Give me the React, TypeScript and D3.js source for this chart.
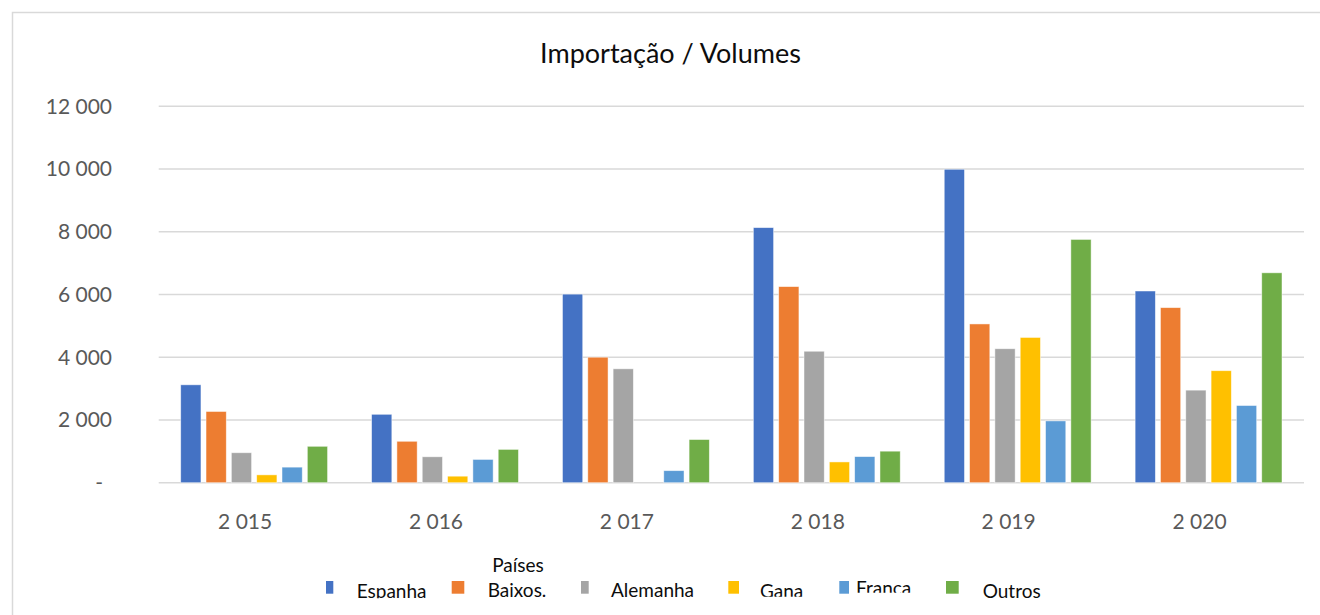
import React from "react";
import * as d3 from "d3";

const years = [2015, 2016, 2017, 2018, 2019, 2020];
const countries = ["Espanha", "Baixos.", "Alemanha", "Gana", "França", "Outros"];
const espanha = [3120, 2180, 6010, 8130, 9990, 6110];
const baixos = [2270, 1320, 4000, 6250, 5060, 5580];
const alemanha = [955, 826, 3630, 4190, 4270, 2950];
const gana = [250, 208, 0, 662, 4630, 3570];
const franca = [496, 742, 384, 832, 1970, 2460];
const outros = [1160, 1062, 1376, 1005, 7754, 6690];
const yTicks = [0, 2000, 4000, 6000, 8000, 10000, 12000];
const title = "Importação / Volumes";
const legendTitle = "Países";

const seriesValues = [espanha, baixos, alemanha, gana, franca, outros];
const colors = ["#4472C4", "#ED7D31", "#A5A5A5", "#FFC000", "#5B9BD5", "#70AD47"];

// legend layout (positions only)
const legendLayout = [
  { sx: 326, sw: 7.3, tx: 356.7, ty: 598, clip: 598.3 },
  { sx: 451.7, sw: 12.6, tx: 487.7, ty: 596.5, clip: 600 },
  { sx: 581, sw: 7.7, tx: 611, ty: 597.2, clip: 597.7 },
  { sx: 728.3, sw: 10.7, tx: 760, ty: 598, clip: 596.7 },
  { sx: 839.3, sw: 9.7, tx: 856, ty: 594.8, clip: 592.8 },
  { sx: 946, sw: 12.7, tx: 982.7, ty: 597.5, clip: 602 },
];

const W = 1320;
const H = 615;
const FONT = "Lato, 'Open Sans', sans-serif";

const locale = d3.formatLocale({ decimal: ",", thousands: " ", grouping: [3], currency: ["", ""] });
const fmt = locale.format(",d");

export default function App() {
  const x0 = d3.scaleBand<number>().domain(years).range([158.7, 1304]).padding(0);
  const x1 = d3
    .scaleBand<string>()
    .domain(countries)
    .range([22, x0.bandwidth() - 22])
    .paddingInner(0.2)
    .paddingOuter(0);
  const y = d3.scaleLinear().domain([0, 12000]).range([482.7, 106.2]);

  return (
    <svg
      width={W}
      height={H}
      style={{ position: "absolute", left: 0, top: 0, background: "#fff" }}
      fontFamily={FONT}
    >
      <defs>
        {legendLayout.map((l, i) => (
          <clipPath id={`lc${i}`} key={i}>
            <rect x={l.tx - 5} y={540} width={200} height={l.clip - 540} />
          </clipPath>
        ))}
      </defs>
      <rect x={0} y={0} width={W} height={H} fill="#fff" />
      <rect x={12.5} y={12.5} width={W + 20} height={H + 20} fill="none" stroke="#d9d9d9" strokeWidth={1.5} />

      <text x={670.5} y={63} textAnchor="middle" fontSize={27} fill="#0d0d0d">
        {title}
      </text>

      {yTicks.map((t) => (
        <g key={t}>
          <line x1={158.7} x2={1304} y1={y(t)} y2={y(t)} stroke="#d9d9d9" strokeWidth={1.5} />
          <text
            x={t === 0 ? 103 : 112}
            y={y(t) + 7.5}
            textAnchor="end"
            fontSize={21}
            fill="#595959"
          >
            {t === 0 ? "-" : fmt(t)}
          </text>
        </g>
      ))}

      {years.map((yr, yi) => (
        <g key={yr} transform={`translate(${x0(yr)},0)`}>
          {countries.map((c, ci) => {
            const v = seriesValues[ci][yi];
            if (!v) return null;
            return (
              <rect
                key={c}
                x={x1(c)}
                y={y(v)}
                width={x1.bandwidth()}
                height={y(0) - y(v)}
                fill={colors[ci]}
                stroke="#ffffff"
                strokeOpacity={0.6}
                strokeWidth={0.8}
              />
            );
          })}
          <text
            x={x0.bandwidth() / 2 - 9}
            y={529}
            textAnchor="middle"
            fontSize={21}
            fill="#595959"
          >
            {fmt(yr)}
          </text>
        </g>
      ))}

      <text x={518} y={571.5} textAnchor="middle" fontSize={19} fill="#0d0d0d">
        {legendTitle}
      </text>
      {countries.map((c, i) => {
        const l = legendLayout[i];
        return (
          <g key={c}>
            <rect x={l.sx} y={581} width={l.sw} height={12.7} fill={colors[i]} />
            <text
              x={l.tx}
              y={l.ty}
              fontSize={19}
              fill="#0d0d0d"
              clipPath={`url(#lc${i})`}
            >
              {c}
            </text>
          </g>
        );
      })}
    </svg>
  );
}
